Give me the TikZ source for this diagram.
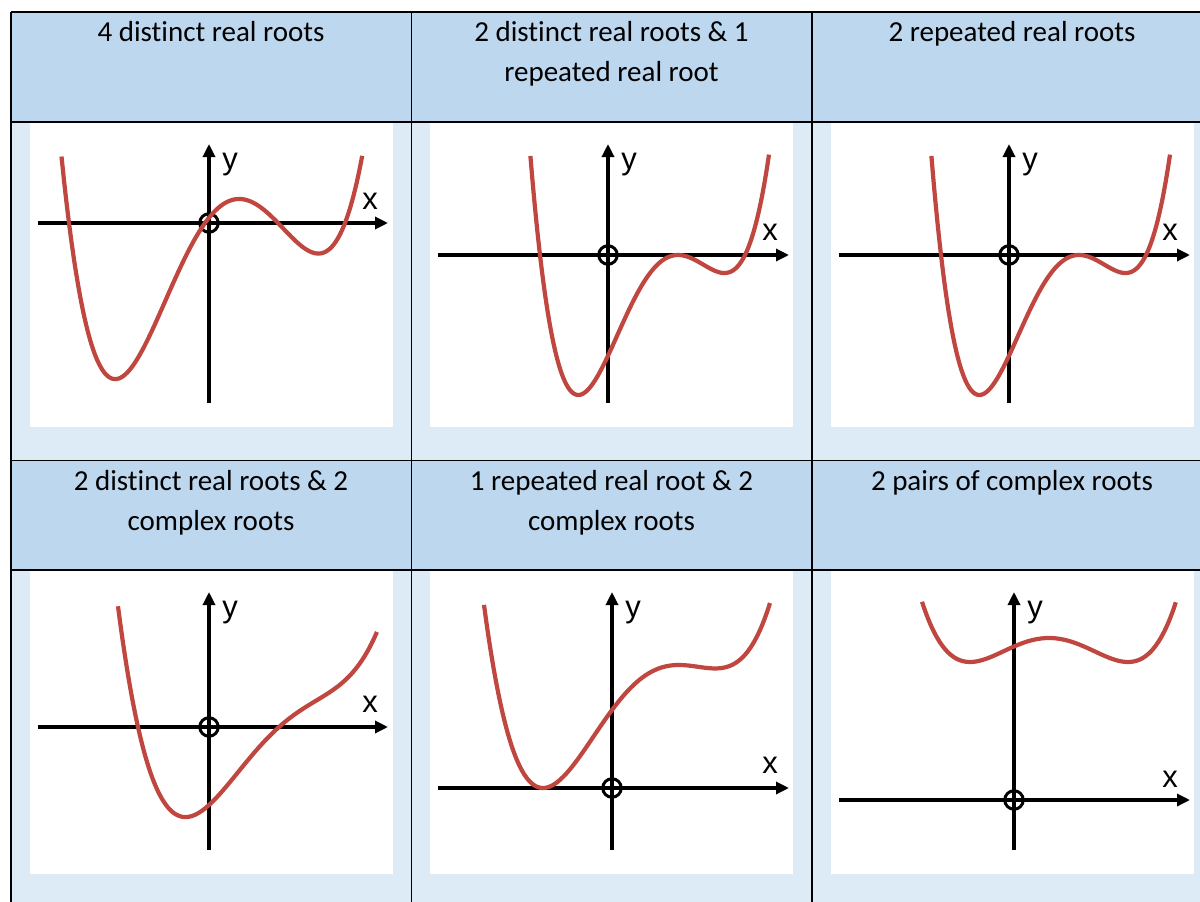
\documentclass[tikz,border=0pt]{standalone}
\usepackage{fontspec}
\setmainfont{Carlito}[Ligatures=NoCommon]
\newfontfamily\axfont{Liberation Sans}
\usetikzlibrary{arrows.meta}
\definecolor{hdrblue}{HTML}{BDD7EE}
\definecolor{cellblue}{HTML}{DDEBF7}
\definecolor{curvered}{RGB}{192,70,64}

\begin{document}
\begin{tikzpicture}[x=1pt,y=-1pt,
    hdr/.style={anchor=base, align=center, inner sep=0pt, font=\fontsize{29}{40}\selectfont},
    axlbl/.style={anchor=base, inner sep=0pt, font=\axfont\fontsize{31}{31}\selectfont},
    orig/.style={circle, draw=black, line width=3pt, minimum size=18.5pt, inner sep=0pt},
    axisline/.style={line width=3.2pt, -{Triangle[length=13pt,width=12pt]}},
    tbl/.style={line width=1.8pt},
    curve/.style={line width=4.2pt, curvered, smooth, samples=120}
    ]
    \useasboundingbox (0,0) rectangle (1200,902);

    % table cells
    \fill[hdrblue] (11,12) rectangle (1212,122);
    \fill[cellblue] (11,122) rectangle (1212,460.5);
    \fill[hdrblue] (11,460.5) rectangle (1212,570);
    \fill[cellblue] (11,570) rectangle (1212,902);
    \foreach \xa/\xb in {30/393, 430/793, 831/1194} {
        \fill[white] (\xa,123) rectangle (\xb,427);
        \fill[white] (\xa,571) rectangle (\xb,874);
    }
    \draw[tbl] (11,12) -- (1212,12);
    \foreach \yy in {122,460.5,570} \draw[tbl] (11,\yy) -- (1212,\yy);
    \foreach \xx in {11,411.5,812} \draw[tbl] (\xx,12) -- (\xx,902);

    % headers (two-line ones sit on the baseline of their last line)
    \node[hdr] (h1) at (211,41.5) {4 distinct real roots};
    \node[hdr] (h2) at (611.5,81.5) {2 distinct real roots \& 1\\repeated real root};
    \node[hdr] (h3) at (1012,41.5) {2 repeated real roots};
    \node[hdr] (h4) at (211,530) {2 distinct real roots \& 2\\complex roots};
    \node[hdr] (h5) at (611.5,530) {1 repeated real root \& 2\\complex roots};
    \node[hdr] (h6) at (1012,490) {2 pairs of complex roots};

    % 4 distinct real roots
    \coordinate (xl1) at (38,223); \coordinate (xr1) at (388,223);
    \coordinate (yb1) at (209,403); \coordinate (yt1) at (209,144);
    \draw[axisline] (xl1) -- (xr1);
    \draw[axisline] (yb1) -- (yt1);
    \node[axlbl] (lx1) at (370,209) {x};
    \node[axlbl] (ly1) at (230,169) {y};
    \node[orig] (o1) at (209,223) {};
    \begin{scope}[shift={(o1)}, x=100pt, y=1pt]
        \draw[curve] plot[domain=-1.475:1.532] (\x,{100.6*(\x+1.40)*(\x+0.04)*(\x-0.69)*(\x-1.36)});
    \end{scope}

    % 2 distinct & 1 repeated
    \coordinate (xl2) at (438,255); \coordinate (xr2) at (789,255);
    \coordinate (yb2) at (608,403); \coordinate (yt2) at (608,144);
    \draw[axisline] (xl2) -- (xr2);
    \draw[axisline] (yb2) -- (yt2);
    \node[axlbl] (lx2) at (770,240) {x};
    \node[axlbl] (ly2) at (629,169) {y};
    \node[orig] (o2) at (608,255) {};
    \begin{scope}[shift={(o2)}, x=100pt, y=1pt]
        \draw[curve] plot[domain=-0.776:1.61] (\x,{220.6*(\x+0.68)*(\x-0.70)*(\x-0.70)*(\x-1.37)});
    \end{scope}

    % 2 repeated
    \coordinate (xl3) at (839,255); \coordinate (xr3) at (1190,255);
    \coordinate (yb3) at (1009,403); \coordinate (yt3) at (1009,144);
    \draw[axisline] (xl3) -- (xr3);
    \draw[axisline] (yb3) -- (yt3);
    \node[axlbl] (lx3) at (1170,240) {x};
    \node[axlbl] (ly3) at (1030,169) {y};
    \node[orig] (o3) at (1009,255) {};
    \begin{scope}[shift={(o3)}, x=100pt, y=1pt]
        \draw[curve] plot[domain=-0.776:1.61] (\x,{220.6*(\x+0.68)*(\x-0.70)*(\x-0.70)*(\x-1.37)});
    \end{scope}

    % 2 distinct & 2 complex
    \coordinate (xl4) at (38,727); \coordinate (xr4) at (388,727);
    \coordinate (yb4) at (209,850); \coordinate (yt4) at (209,592);
    \draw[axisline] (xl4) -- (xr4);
    \draw[axisline] (yb4) -- (yt4);
    \node[axlbl] (lx4) at (370,712) {x};
    \node[axlbl] (ly4) at (230,617) {y};
    \node[orig] (o4) at (209,727) {};
    \begin{scope}[shift={(o4)}, x=100pt, y=1pt]
        \draw[curve] plot[domain=-0.91:1.68] (\x,{65.8*(\x+0.71)*(\x-0.70)*((\x-1.366)*(\x-1.366)+0.5191)});
    \end{scope}

    % 1 repeated & 2 complex
    \coordinate (xl5) at (438,788); \coordinate (xr5) at (789,788);
    \coordinate (yb5) at (612,850); \coordinate (yt5) at (612,592);
    \draw[axisline] (xl5) -- (xr5);
    \draw[axisline] (yb5) -- (yt5);
    \node[axlbl] (lx5) at (770,773) {x};
    \node[axlbl] (ly5) at (633,617) {y};
    \node[orig] (o5) at (612,788) {};
    \begin{scope}[shift={(o5)}, x=100pt, y=1pt]
        \draw[curve] plot[domain=-1.28:1.58] (\x,{70.65*(\x+0.69)*(\x+0.69)*((\x-1.363)*(\x-1.363)+0.4611)});
    \end{scope}

    % 2 pairs of complex
    \coordinate (xl6) at (839,800); \coordinate (xr6) at (1190,800);
    \coordinate (yb6) at (1014,850); \coordinate (yt6) at (1014,592);
    \draw[axisline] (xl6) -- (xr6);
    \draw[axisline] (yb6) -- (yt6);
    \node[axlbl] (lx6) at (1170,787) {x};
    \node[axlbl] (ly6) at (1035,617) {y};
    \node[orig] (o6) at (1014,800) {};
    \begin{scope}[shift={(o6)}, x=100pt, y=1pt]
        \draw[curve] plot[domain=-0.92:1.62] (\x,{61.62*(\x-0.35)*(\x-0.35)*(\x-0.35)*(\x-0.35)-76.91*(\x-0.35)*(\x-0.35)+162});
    \end{scope}
\end{tikzpicture}
\end{document}
